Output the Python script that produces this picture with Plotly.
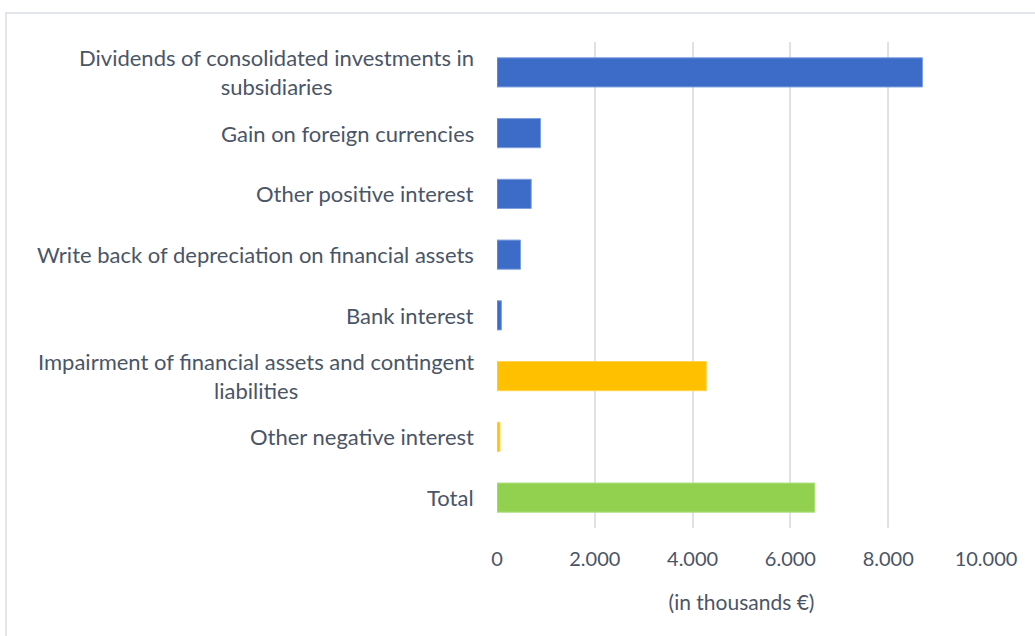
import plotly.graph_objects as go

# Financial income / expense breakdown (in thousands €)
categories = [
    "Dividends of consolidated investments in<br>subsidiaries",
    "Gain on foreign currencies",
    "Other positive interest",
    "Write back of depreciation on financial assets",
    "Bank interest",
    "Impairment of financial assets and contingent<br>liabilities",
    "Other negative interest",
    "Total",
]
values = [8700, 890, 700, 480, 90, 4280, 60, 6500]
kinds = ["income", "income", "income", "income", "income", "expense", "expense", "total"]

fill = {"income": "#3c6cc8", "expense": "#ffc000", "total": "#92d050"}
edge = {"income": "#7e9fdd", "expense": "#ffd34d", "total": "#b2df84"}

tick_vals = [0, 2000, 4000, 6000, 8000, 10000]

FONT = "Lato"
TEXT = "#4a5567"

W, H = 1035, 636
L, R, T, B = 496.5, 49, 42, 108

fig = go.Figure(
    go.Bar(
        x=values,
        y=categories,
        orientation="h",
        marker=dict(
            color=[fill[k] for k in kinds],
            line=dict(color=[edge[k] for k in kinds], width=1),
        ),
        width=0.48,
        hoverinfo="x+y",
    )
)

# category labels, each line centred within its label block
annotations = [
    dict(
        x=0, xref="paper", y=c, yref="y",
        text=c, showarrow=False,
        xanchor="right", yanchor="middle", align="center",
        xshift=-21,
        font=dict(family=FONT, size=22, color=TEXT),
    )
    for c in categories
]

pw = W - L - R
ph = H - T - B
frame = dict(
    type="rect", xref="paper", yref="paper",
    x0=(5 - L) / pw, x1=(W + 20 - L) / pw,
    y0=(H - B - (H + 20)) / ph, y1=(H - B - 13) / ph,
    line=dict(color="#d9dde5", width=1.5),
    fillcolor="rgba(0,0,0,0)",
    layer="below",
)

fig.update_layout(
    width=W, height=H,
    margin=dict(l=L, r=R, t=T, b=B, pad=0),
    paper_bgcolor="white",
    plot_bgcolor="white",
    separators=",.",
    showlegend=False,
    font=dict(family=FONT, size=20, color=TEXT),
    annotations=annotations,
    shapes=[frame],
    xaxis=dict(
        range=[0, 10000],
        tickvals=tick_vals,
        tickformat=",d",
        showgrid=True,
        gridcolor="#dde1e9",
        gridwidth=1.5,
        zeroline=False,
        showline=False,
        ticks="",
        ticklabelstandoff=17,
        tickfont=dict(family=FONT, size=20, color=TEXT),
        title=dict(
            text="(in thousands €)",
            font=dict(family=FONT, size=21, color=TEXT),
            standoff=26,
        ),
        fixedrange=True,
    ),
    yaxis=dict(
        autorange="reversed",
        showticklabels=False,
        showgrid=False,
        zeroline=False,
        showline=False,
        ticks="",
        fixedrange=True,
    ),
)

fig.write_html("out.html")
